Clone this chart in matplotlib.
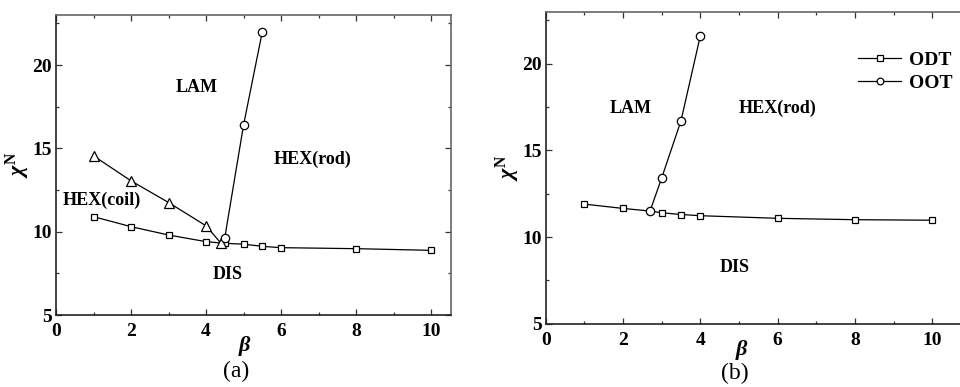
import matplotlib
matplotlib.use('Agg')
import matplotlib.pyplot as plt
from matplotlib.ticker import MultipleLocator

plt.rcParams['font.family'] = ['Liberation Serif', 'DejaVu Serif']
plt.rcParams['font.weight'] = 'bold'
plt.rcParams['mathtext.fontset'] = 'custom'
plt.rcParams['mathtext.it'] = 'Liberation Serif:bold:italic'
plt.rcParams['mathtext.rm'] = 'Liberation Serif:bold'
plt.rcParams['mathtext.bf'] = 'Liberation Serif:bold'

# panel (a): coil-rod phase boundaries
a_odt_beta = [1, 2, 3, 4, 4.5, 5, 5.5, 6, 8, 10]
a_odt_chin = [10.9, 10.3, 9.8, 9.4, 9.3, 9.25, 9.12, 9.04, 8.98, 8.88]
a_coil_beta = [1, 2, 3, 4, 4.4]
a_coil_chin = [14.55, 13.05, 11.75, 10.35, 9.3]
a_oot_beta = [4.5, 5, 5.5]
a_oot_chin = [9.65, 16.4, 22.0]
a_labels = [('LAM', 3.75, 18.65), ('HEX(rod)', 6.85, 14.35),
            ('HEX(coil)', 1.22, 11.85), ('DIS', 4.58, 7.45)]

# panel (b)
b_odt_beta = [1, 2, 2.7, 3, 3.5, 4, 6, 8, 10]
b_odt_chin = [11.9, 11.65, 11.5, 11.4, 11.3, 11.23, 11.08, 11.0, 10.97]
b_oot_beta = [2.7, 3, 3.5, 4]
b_oot_chin = [11.5, 13.4, 16.7, 21.6]
b_labels = [('LAM', 2.21, 17.4), ('HEX(rod)', 6.0, 17.4), ('DIS', 4.88, 8.25)]

mk = dict(color='black', lw=0.9, mfc='white', mec='black', mew=0.9)


def style_axes(ax, xmax):
    ax.set_xlim(0, xmax)
    ax.set_ylim(5, 23)
    ax.xaxis.set_major_locator(MultipleLocator(2))
    ax.xaxis.set_minor_locator(MultipleLocator(1))
    ax.yaxis.set_major_locator(MultipleLocator(5))
    ax.yaxis.set_minor_locator(MultipleLocator(2.5))
    ax.tick_params(which='both', direction='in', top=True, right=True,
                   labelsize=14, width=0.9, color='#333333')
    ax.tick_params(which='major', length=4)
    ax.tick_params(which='minor', length=2.5)
    ax.tick_params(axis='x', pad=6)
    ax.tick_params(axis='y', pad=3)
    for lab in ax.get_xticklabels() + ax.get_yticklabels():
        lab.set_fontweight('bold')
    for side in ['left', 'bottom']:
        ax.spines[side].set_linewidth(1.2)
        ax.spines[side].set_color('#222222')
    for side in ['top', 'right']:
        ax.spines[side].set_linewidth(1.2)
        ax.spines[side].set_color('#666666')
    ax.set_ylabel(r'$\chi^{\mathrm{N}}$', fontsize=16, labelpad=0)
    ax.set_xlabel(r'$\beta$', fontsize=16)


fig = plt.figure(figsize=(9.6, 3.87), dpi=100)

ax1 = fig.add_axes([56 / 960, 72 / 387, 395 / 960, 300 / 387])
ax1.plot(a_odt_beta, a_odt_chin, marker='s', ms=5, **mk)
ax1.plot(a_coil_beta, a_coil_chin, marker='^', ms=7, **mk)
ax1.plot(a_oot_beta, a_oot_chin, marker='o', ms=6, **mk)
style_axes(ax1, 10.53)
ax1.xaxis.set_label_coords(0.478, -0.065)
for txt, x, y in a_labels:
    ax1.text(x, y, txt, fontsize=13, fontweight='bold', ha='center', va='center')
fig.text(236 / 960, 1 - 371 / 387, '(a)', fontsize=17, fontweight='normal',
         ha='center', va='center')

# right spine of (b) sits just past the figure edge
ax2 = fig.add_axes([545.7 / 960, 63.3 / 387, 422 / 960, 312 / 387])
ax2.plot(b_odt_beta, b_odt_chin, marker='s', ms=5, label='ODT', **mk)
ax2.plot(b_oot_beta, b_oot_chin, marker='o', ms=6, label='OOT', **mk)
style_axes(ax2, 10.92)
ax2.xaxis.set_label_coords(0.465, -0.045)
for txt, x, y in b_labels:
    ax2.text(x, y, txt, fontsize=13, fontweight='bold', ha='center', va='center')
ax2.legend(loc='upper right', bbox_to_anchor=(1.005, 0.93), frameon=False,
           handlelength=2.2, handletextpad=0.4, labelspacing=0.3,
           markerscale=0.8, prop={'weight': 'bold', 'size': 14})
fig.text(735 / 960, 1 - 373 / 387, '(b)', fontsize=17, fontweight='normal',
         ha='center', va='center')

fig.savefig('out.png', dpi=100)
